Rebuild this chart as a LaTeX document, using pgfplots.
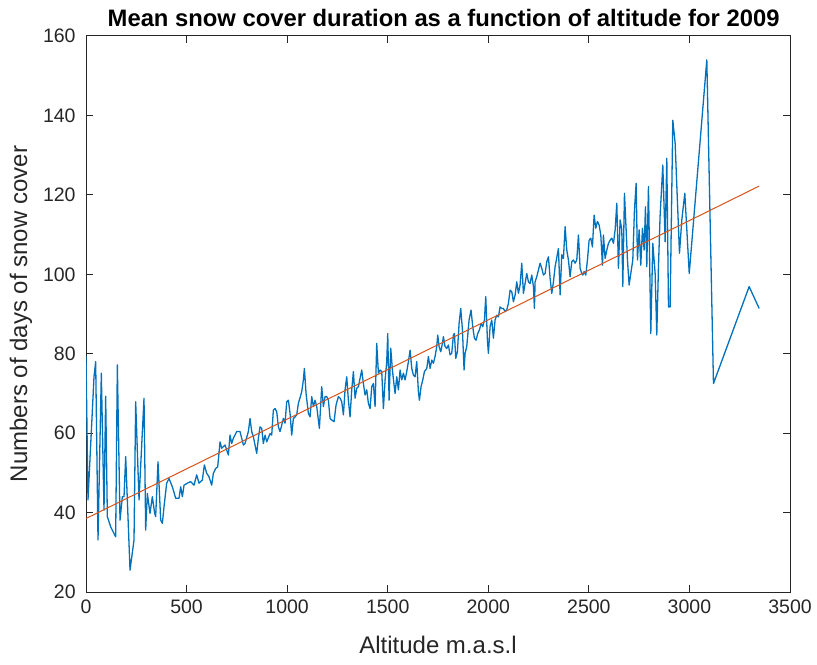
\documentclass[border=0pt]{standalone}
\usepackage{fontspec}
\setmainfont{Liberation Sans}
\usepackage{pgfplots}
\pgfplotsset{compat=1.18}
\definecolor{mblue}{RGB}{0,114,189}
\definecolor{morange}{RGB}{217,83,25}
\definecolor{mgray}{RGB}{38,38,38}
\begin{document}
\begin{tikzpicture}
\begin{axis}[
  scale only axis, width=352pt, height=278pt,
  xmin=0, xmax=3500, ymin=20, ymax=160,
  xtick={0,500,...,3500}, ytick={20,40,...,160},
  tick pos=both,
  tick align=inside, major tick length=3.5pt,
  axis line style={mgray, line width=0.5pt},
  every tick/.style={mgray, line width=0.5pt},
  ticklabel style={font=\fontsize{9.75}{11}\selectfont, text=mgray},
  /pgf/number format/assume math mode=true,
  scaled ticks=false, /pgf/number format/1000 sep={},
  xticklabel style={inner sep=0pt, anchor=north, yshift=-3.5pt},
  yticklabel style={inner sep=0pt, anchor=east, xshift=-5pt},
  xlabel={Altitude m.a.s.l},
  ylabel={Numbers of days of snow cover},
  xlabel style={font=\fontsize{12}{14}\selectfont, text=mgray, at={(axis description cs:0.5,-0.0953)}, anchor=center, inner sep=0pt},
  ylabel style={font=\fontsize{12}{14}\selectfont, text=mgray, at={(axis description cs:-0.0923,0.5)}, anchor=center, inner sep=0pt, rotate=0},
  clip=true,
]
\addplot[mblue, line width=0.65pt, line join=round] coordinates {
(0,79.3) (9.9,43.2) (39.8,74.2) (48.1,78.0) (59.7,33.1) (76.2,75.1) (89.5,40.6) (97.8,69.3)
(106.1,39.0) (122.7,36.4) (147.5,33.9) (155.8,77.2) (169.1,38.1) (180.7,44.0) (189.0,44.0)
(197.3,54.1) (218.9,25.5) (238.7,33.1) (247.0,67.9) (263.6,43.2) (288.4,68.8) (296.7,35.6)
(305.0,44.8) (318.2,39.8) (329.8,44.0) (341.4,39.8) (346.4,39.0) (358.0,52.8) (371.3,38.1)
(379.6,37.3) (387.9,41.5) (401.1,47.4) (412.7,48.6) (429.3,46.5) (445.9,43.6) (462.4,43.6)
(470.7,46.5) (479.0,44.0) (487.3,46.9) (503.9,47.4) (520.4,47.8) (537.0,46.9) (550.3,49.5)
(561.9,47.4) (578.5,48.2)
(588.4,52.0) (600.0,49.9) (611.6,49.0) (624.9,46.9) (633.2,49.9) (644.8,51.1) (654.7,51.5)
(666.3,57.8) (674.6,56.2) (682.9,56.6) (691.2,57.0) (707.8,54.5) (716.0,59.5) (724.3,57.4)
(732.6,58.7) (749.2,60.4) (765.8,60.4) (774.1,58.7) (782.4,57.0) (790.6,57.4) (807.2,60.4)
(815.5,63.7) (823.8,60.4) (832.1,59.1) (848.7,54.9) (856.9,58.7) (865.2,61.6) (873.5,61.2)
(881.8,57.4) (890.1,59.5) (898.4,57.8) (915.0,59.9) (923.2,59.5) (931.5,65.8) (939.8,66.2)
(948.1,65.4) (956.4,61.6) (964.7,60.4) (973.0,62.0) (981.3,63.7) (989.6,62.5) (997.8,67.9)
(1006.1,68.3) (1014.4,65.0) (1022.7,59.5) (1031.0,63.7) (1039.3,64.1) (1047.6,64.6)
(1055.9,67.5) (1072.4,70.4) (1080.7,73.4) (1085.7,76.3) (1094.0,70.0) (1105.6,65.0)
(1113.9,64.1) (1122.2,69.2) (1130.5,66.7) (1138.7,68.3)
(1147.1,66.7) (1160.3,61.2) (1171.9,71.7) (1180.2,66.7) (1188.5,69.2) (1196.8,69.2)
(1205.1,68.3) (1213.4,63.7) (1221.6,63.3) (1233.3,62.9) (1243.2,67.1) (1254.8,69.2)
(1263.1,68.8) (1271.4,67.9) (1279.7,64.6) (1287.9,70.9) (1296.2,74.2) (1304.5,68.3)
(1312.8,64.1) (1321.1,70.9) (1329.4,75.5) (1337.7,68.8) (1346.0,71.3) (1354.3,71.7)
(1362.5,73.8) (1370.8,75.9) (1379.1,72.5) (1387.4,69.6) (1395.7,70.9) (1404.0,67.5)
(1412.3,66.2) (1420.6,71.7) (1428.8,72.5) (1437.1,66.7) (1445.4,82.6) (1453.7,75.1)
(1462.0,75.9) (1470.3,75.5) (1478.6,66.2) (1486.9,73.4) (1495.1,78.0) (1500.1,85.1)
(1506.8,68.3) (1515.0,81.4) (1523.3,75.9) (1531.6,72.1) (1536.6,70.0) (1544.9,74.2)
(1553.2,70.9) (1561.5,75.9) (1569.7,73.4) (1578.0,75.1) (1586.3,73.4) (1594.6,75.5)
(1602.9,78.0) (1611.2,80.9) (1619.5,76.3) (1627.8,74.6) (1636.0,74.2) (1644.3,78.0)
(1652.6,70.4) (1657.6,68.3) (1665.9,71.7) (1674.2,73.4) (1682.5,75.5) (1694.1,76.3)
(1702.4,79.3) (1710.6,76.3) (1718.9,78.4) (1727.1,77.6)
(1735.4,79.3) (1743.7,81.8) (1748.7,84.7) (1755.3,81.8) (1763.6,80.5) (1771.9,82.6)
(1776.9,84.3) (1785.2,81.8) (1793.4,81.3) (1801.7,82.2) (1810.0,79.7) (1818.3,80.1)
(1826.6,84.7) (1831.6,85.1) (1838.2,78.8) (1846.5,80.5) (1854.8,87.6) (1863.1,91.4)
(1871.4,86.0) (1879.6,75.9) (1884.6,80.1) (1892.9,81.8) (1904.5,88.5) (1914.4,91.0)
(1922.7,86.8) (1931.0,83.9) (1939.3,83.4) (1947.6,85.1) (1955.9,86.0) (1964.2,87.6)
(1972.5,86.8) (1980.8,88.5) (1987.4,94.4) (1995.7,83.4) (2000.6,80.1) (2008.9,86.8)
(2017.2,88.5) (2025.5,83.9) (2033.8,88.5) (2042.1,89.7) (2050.4,89.3) (2058.7,91.8)
(2067.0,91.4) (2075.2,91.4) (2083.5,90.6) (2091.8,91.0) (2100.1,92.7) (2108.4,96.0)
(2116.7,95.6) (2125.0,93.1) (2133.3,94.8) (2141.5,98.1) (2149.8,95.2) (2158.1,97.3)
(2166.4,102.8) (2174.7,95.2) (2183.0,97.7) (2191.3,100.2) (2199.6,98.1) (2207.8,97.7)
(2216.1,99.8) (2224.4,96.9) (2229.4,91.4) (2232.7,98.1) (2241.0,99.4) (2249.3,101.1)
(2257.6,102.8) (2265.9,101.5) (2274.2,99.8) (2282.4,100.2)
(2290.8,103.2) (2299.0,104.4) (2307.3,99.0) (2315.6,95.2) (2323.9,98.1) (2332.2,101.9)
(2348.8,106.5) (2357.1,94.8) (2365.3,104.9) (2373.6,104.0) (2381.9,112.0) (2390.2,106.1)
(2398.5,103.6) (2406.8,99.4) (2415.1,103.2) (2423.4,103.6) (2431.6,102.8) (2439.9,103.6)
(2448.2,109.9) (2456.5,101.5) (2464.8,100.2) (2469.8,99.8) (2476.4,100.7) (2484.7,99.8)
(2493.0,103.6) (2501.3,108.6) (2509.6,109.1) (2517.8,106.9) (2526.1,114.9) (2534.4,111.6)
(2542.7,113.3) (2551.0,112.4) (2559.3,109.9) (2567.6,102.3) (2572.5,109.9) (2580.8,104.0)
(2589.1,106.1) (2597.4,107.8) (2605.7,108.6) (2614.0,109.1) (2622.3,107.8) (2630.6,111.2)
(2638.9,117.9) (2647.1,101.5) (2655.4,113.7) (2663.7,111.2) (2668.7,96.9) (2677.0,120.4)
(2685.3,111.2) (2691.9,103.6) (2700.2,97.3) (2708.5,100.2) (2718.4,103.6) (2726.7,116.2)
(2735.0,122.9) (2741.6,103.6) (2749.9,111.2) (2758.2,102.3) (2766.5,111.6) (2774.8,106.1)
(2781.4,117.0) (2788.0,101.9) (2796.3,122.1)
(2807.9,85.1) (2817.9,107.8) (2829.5,100.2) (2837.7,84.7) (2846.0,101.9) (2854.0,114.5)
(2867.6,127.5) (2879.2,108.2) (2887.5,129.2) (2895.8,91.8) (2904.0,91.8) (2917.3,138.8)
(2928.9,133.0) (2950.5,105.3) (2962.1,113.7) (2977.0,120.4) (2999.0,100.2) (3086.4,154.0)
(3119.5,72.5) (3296.9,96.9) (3346.6,91.4)
};
\addplot[morange, line width=0.5pt] coordinates {(0,38.5) (3346.6,122.2)};
\end{axis}
\node[font=\fontsize{11.9}{14}\bfseries\selectfont, text=black, inner sep=0pt, anchor=base]
  at ([shift={(178.8pt,4.5pt)}]current axis.north west) {Mean snow cover duration as a function of altitude for 2009};
\pgfresetboundingbox
\path ([shift={(-43pt,-36pt)}]current axis.south west) rectangle ([shift={(13.5pt,18pt)}]current axis.north east);
\end{tikzpicture}
\end{document}
